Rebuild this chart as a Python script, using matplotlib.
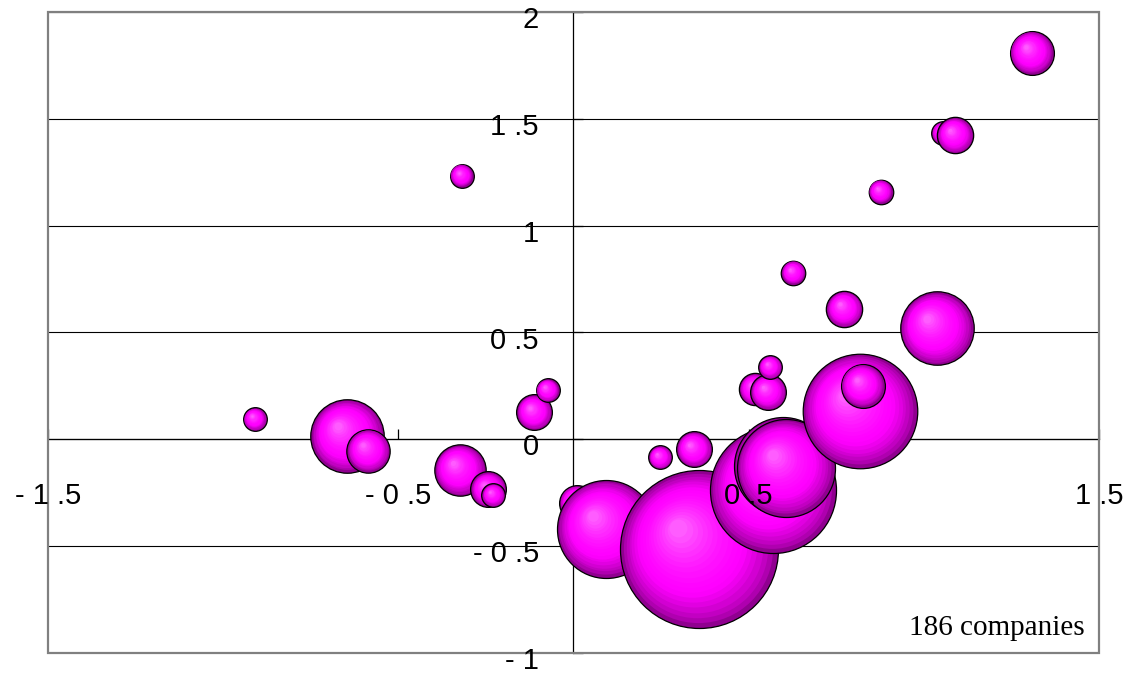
import numpy as np
import matplotlib
matplotlib.use("Agg")
import matplotlib.pyplot as plt
from matplotlib.patches import Rectangle
from matplotlib.transforms import ScaledTranslation
from matplotlib.colors import to_rgb

# bubble data, listed in drawing order (later ones sit on top)
x_vals = [-0.909, -0.645, -0.585, -0.319, -0.324, -0.243, -0.229, -0.112, -0.074,
          0.010, 0.093, 0.247, 0.344, 0.358, 0.570, 0.598, 0.606, 0.518, 0.555,
          0.561, 0.627, 0.773, 0.817, 0.825, 1.036, 0.876, 1.054, 1.088, 1.307]
y_vals = [0.095, 0.015, -0.054, 1.234, -0.144, -0.235, -0.261, 0.126, 0.230,
          -0.299, -0.420, -0.085, -0.047, -0.514, -0.238, -0.125, -0.135, 0.235, 0.221,
          0.338, 0.780, 0.610, 0.132, 0.250, 0.519, 1.159, 1.434, 1.424, 1.810]
sizes = [1.4, 13.5, 4.7, 1.4, 6.6, 3.2, 1.4, 3.2, 1.4,
         3.2, 24.0, 1.4, 3.2, 62.4, 39.7, 24.0, 24.0, 2.6, 3.2,
         1.4, 1.5, 3.3, 32.8, 4.8, 13.5, 1.5, 1.4, 3.3, 4.8]

x_ticks = [-1.5, -0.5, 0.5, 1.5]
y_ticks = [-1, -0.5, 0, 0.5, 1, 1.5, 2]
note = "186 companies"


def tick_text(v):
    # labels look like "- 0 .5" in the original
    s = "%g" % v
    return s.replace("-", "- ").replace(".", " .")


fig = plt.figure(figsize=(11.27, 6.75), dpi=100)
ax = fig.add_axes([0.0423, 0.0330, 0.9331, 0.9492])
ax.set_xlim(-1.5, 1.5)
ax.set_ylim(-1, 2)

for side in ["top", "right"]:
    ax.spines[side].set_visible(False)
ax.spines["left"].set_position(("data", 0))
ax.spines["bottom"].set_position(("data", 0))
for side in ["left", "bottom"]:
    ax.spines[side].set_color("black")
    ax.spines[side].set_linewidth(0.9)
    ax.spines[side].set_zorder(1.6)

ax.set_xticks(x_ticks)
ax.set_yticks(y_ticks)
ax.tick_params(axis="both", direction="in", length=7.5, width=0.9, color="black",
               labelbottom=False, labelleft=False)
ax.grid(axis="y", color="black", linewidth=0.8)
ax.set_axisbelow("line")

# gray outer frame
ax.add_patch(Rectangle((0, 0), 1, 1, transform=ax.transAxes, fill=False,
                       edgecolor="#808080", linewidth=1.6, clip_on=False, zorder=5))

# shaded spheres
dark = np.array(to_rgb("#900090"))
mid = np.array(to_rgb("#ff00ff"))
light = np.array(to_rgb("#ff5cff"))
max_r = 79 * 0.72  # radius of largest bubble in points
smax = max(sizes)
n_layers = 18

for x, y, s in zip(x_vals, y_vals, sizes):
    R = max_r * np.sqrt(s / smax)
    ax.scatter([x], [y], s=(2 * R) ** 2, color=dark, edgecolors="black",
               linewidths=0.9, zorder=3)
    for i in range(1, n_layers + 1):
        t = i / n_layers
        r = R * (1 - 0.88 * t) - 0.4
        off = ScaledTranslation(-0.26 * R * t / 72, 0.26 * R * t / 72, fig.dpi_scale_trans)
        if t < 0.35:
            c = dark + (mid - dark) * (t / 0.35) ** 0.7
        else:
            c = mid + (light - mid) * ((t - 0.35) / 0.65) ** 1.6
        ax.scatter([x], [y], s=(2 * max(r, 0.3)) ** 2, color=c, linewidths=0,
                   transform=ax.transData + off, zorder=3)

# tick labels drawn above the bubbles
lab_font = dict(family=["Liberation Sans", "DejaVu Sans"], size=21, color="black")
for v in y_ticks:
    tr = ax.transData + ScaledTranslation(-25 / 72, -6 / 72, fig.dpi_scale_trans)
    ax.text(0, v, tick_text(v), transform=tr, ha="right", va="center", zorder=6, **lab_font)
for v in x_ticks:
    tr = ax.transData + ScaledTranslation(0, -41 / 72, fig.dpi_scale_trans)
    ax.text(v, 0, tick_text(v), transform=tr, ha="center", va="center", zorder=6, **lab_font)

ax.text(0.9864, 0.0276, note, transform=ax.transAxes, ha="right", va="baseline",
        family=["Liberation Serif", "DejaVu Serif"], size=21, zorder=6)

fig.savefig("out.png", dpi=100)
